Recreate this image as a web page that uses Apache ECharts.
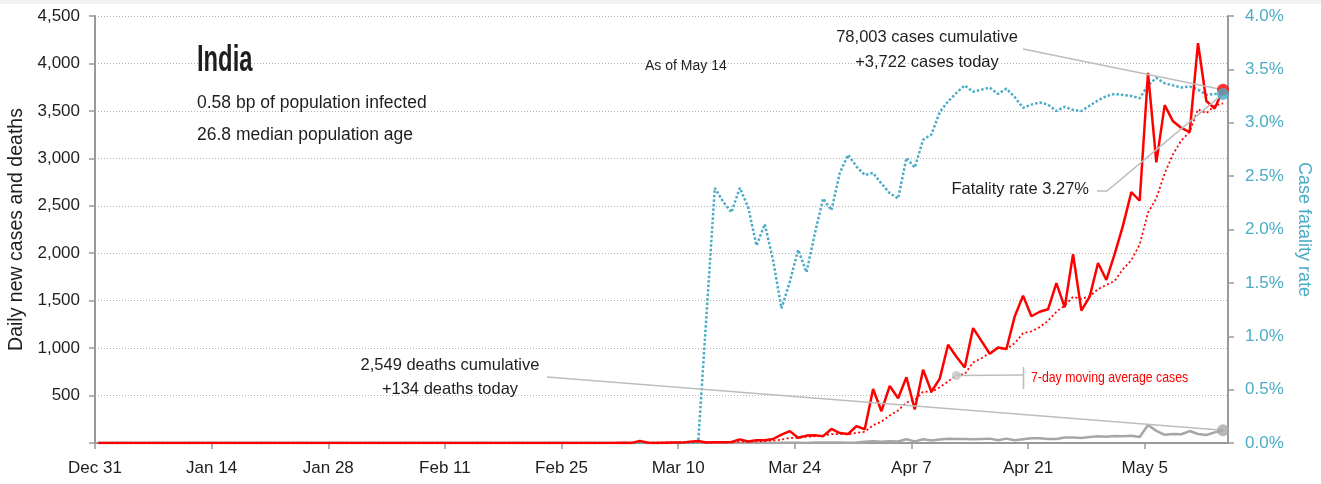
<!DOCTYPE html>
<html><head><meta charset="utf-8">
<script src="https://cdn.jsdelivr.net/npm/echarts@6/dist/echarts.min.js"></script>
<style>html,body{margin:0;padding:0;background:#fff}#c{width:1321px;height:484px}</style>
</head><body><div id="c"></div>
<script>
// ---- data (day 0 = Dec 31, day 135 = May 14) ----
const tickDays = [0, 14, 28, 42, 56, 70, 84, 98, 112, 126];
const tickLabels = ['Dec 31', 'Jan 14', 'Jan 28', 'Feb 11', 'Feb 25', 'Mar 10', 'Mar 24', 'Apr 7', 'Apr 21', 'May 5'];
const dayOffset = 0.4; // reports are plotted a little after midnight of each day

const cases = [
  0,0,0,0,0,0,0,0,0,0,
  0,0,0,0,0,0,0,0,0,0,
  0,0,0,0,0,0,0,0,0,0,
  1,0,0,1,1,0,0,0,0,0,
  0,0,0,0,0,0,0,0,0,0,
  0,0,0,0,0,0,0,0,0,0,
  0,0,0,2,1,22,2,1,3,5,
  4,13,20,6,9,7,10,38,15,30,
  30,42,88,125,56,78,82,72,148,105,
  95,178,145,569,335,601,472,693,354,773,
  540,678,1035,909,796,1211,1076,941,1007,991,
  1334,1553,1336,1383,1409,1684,1429,1990,1396,1543,
  1897,1718,1993,2293,2644,2553,3900,2958,3561,3390,
  3320,3277,4213,3604,3525,3722
];
const casesAvg7 = [
  0,0,0,0,0,0,0,0,0,0,
  0,0,0,0,0,0,0,0,0,0,
  0,0,0,0,0,0,0,0,0,0,
  0.14,0.14,0.14,0.29,0.43,0.43,0.43,0.29,0.29,0.29,
  0.14,0,0,0,0,0,0,0,0,0,
  0,0,0,0,0,0,0,0,0,0,
  0,0,0,0.29,0.43,3.57,3.86,4.0,4.43,5.14,
  5.43,7.14,6.86,7.43,8.57,9.14,9.86,14.7,15.0,16.4,
  19.9,24.6,36.1,52.6,55.1,64.1,71.6,77.6,92.7,95.1,
  90.9,108.3,117.9,187.4,225.0,289.7,342.1,427.6,452.7,542.4,
  538.3,587.3,649.3,711.7,726.4,848.9,892.1,949.4,996.4,990.1,
  1050.9,1159.0,1176.9,1220.7,1287.6,1384.3,1446.9,1540.6,1518.1,1547.7,
  1621.1,1665.3,1709.4,1832.9,1926.3,2091.6,2428.3,2579.9,2843.1,3042.7,
  3189.4,3279.9,3517.0,3474.7,3555.7,3578.7
];
const deaths = [
  0,0,0,0,0,0,0,0,0,0,
  0,0,0,0,0,0,0,0,0,0,
  0,0,0,0,0,0,0,0,0,0,
  0,0,0,0,0,0,0,0,0,0,
  0,0,0,0,0,0,0,0,0,0,
  0,0,0,0,0,0,0,0,0,0,
  0,0,0,0,0,0,0,0,0,0,
  0,0,1,1,0,0,1,0,1,1,
  1,0,2,3,3,1,6,4,4,6,
  2,5,12,18,14,18,16,40,17,40,
  26,37,46,43,43,40,43,46,30,46,
  30,40,50,50,43,43,57,57,53,63,
  70,66,73,70,77,64,190,128,86,95,
  92,126,95,85,112,134
];
const fatalityRate = [
  0,0,0,0,0,0,0,0,0,0,
  0,0,0,0,0,0,0,0,0,0,
  0,0,0,0,0,0,0,0,0,0,
  0,0,0,0,0,0,0,0,0,0,
  0,0,0,0,0,0,0,0,0,0,
  0,0,0,0,0,0,0,0,0,0,
  0,0,0,0,0,0,0,0,0,0,
  0,0,0,1.2,2.39,2.26,2.16,2.39,2.21,1.85,
  2.05,1.71,1.26,1.51,1.81,1.60,1.96,2.29,2.18,2.53,
  2.70,2.59,2.51,2.53,2.43,2.34,2.29,2.67,2.58,2.84,
  2.89,3.10,3.20,3.28,3.35,3.29,3.31,3.33,3.27,3.32,
  3.24,3.14,3.17,3.19,3.17,3.11,3.15,3.12,3.11,3.16,
  3.21,3.25,3.27,3.26,3.25,3.23,3.35,3.42,3.37,3.35,
  3.33,3.34,3.31,3.26,3.27,3.27
];
const avgLabelDay = 103; // where the moving-average callout touches the line

// ---- styling ----
const FONT = '"Liberation Sans", Arial, sans-serif';
const TXT = '#1e1e1e';
const RED = '#ff0000';
const TEAL = '#4bacc6';
const GREY = '#a6a6a6';
const AXIS = '#9a9a9a';
const LEAD = '#bdbdbd';

const pairs = arr => arr.map((v, i) => [i + dayOffset, v]);
const last = cases.length - 1;
const lastX = last + dayOffset;

const chart = echarts.init(document.getElementById('c'), null, {renderer: 'canvas'});
chart.setOption({
  animation: false,
  backgroundColor: '#ffffff',
  textStyle: {fontFamily: FONT},
  grid: {left: 95, right: 93, top: 16, bottom: 41, containLabel: false, outerBoundsMode: 'none'},
  xAxis: {
    type: 'value', min: 0, max: 136,
    axisLine: {show: true, onZero: false, lineStyle: {color: AXIS, width: 2}},
    axisTick: {show: true, length: 6, customValues: tickDays, lineStyle: {color: AXIS, width: 1.5}},
    axisLabel: {customValues: tickDays, formatter: v => tickLabels[tickDays.indexOf(v)] || '',
      color: TXT, fontSize: 17, fontFamily: FONT, margin: 17},
    splitLine: {show: false}
  },
  yAxis: [{
    type: 'value', min: 0, max: 4500, interval: 500, position: 'left',
    name: 'Daily new cases and deaths', nameLocation: 'middle', nameGap: 67,
    nameTextStyle: {color: TXT, fontSize: 19.5, fontFamily: FONT},
    axisLine: {show: true, lineStyle: {color: AXIS, width: 2}},
    axisTick: {show: true, length: 6, lineStyle: {color: AXIS, width: 1.5}},
    axisLabel: {formatter: v => v === 0 ? '' : v.toLocaleString('en-US'), color: TXT, fontSize: 17, fontFamily: FONT, margin: 15},
    splitLine: {show: true, lineStyle: {type: [1, 2], color: '#b3b3b3', width: 1}}
  }, {
    type: 'value', min: 0, max: 4, interval: 0.5, position: 'right',
    name: 'Case fatality rate', nameLocation: 'middle', nameGap: 60, nameRotate: -90,
    nameTextStyle: {color: TEAL, fontSize: 18, fontFamily: FONT},
    axisLine: {show: true, lineStyle: {color: AXIS, width: 2}},
    axisTick: {show: true, length: 6, lineStyle: {color: AXIS, width: 1.5}},
    axisLabel: {formatter: v => v.toFixed(1) + '%', color: TEAL, fontSize: 17, fontFamily: FONT, margin: 17},
    splitLine: {show: false}
  }],
  series: [
    {name: 'Deaths', type: 'line', data: pairs(deaths), showSymbol: false, z: 2,
      lineStyle: {color: GREY, width: 2.5}, itemStyle: {color: GREY}},
    {name: '7-day average', type: 'line', data: pairs(casesAvg7), showSymbol: false, z: 3,
      lineStyle: {color: RED, width: 1.8, type: [2, 2.5]}, itemStyle: {color: RED}},
    {name: 'Fatality rate', type: 'line', yAxisIndex: 1, data: pairs(fatalityRate), showSymbol: false, z: 3,
      lineStyle: {color: TEAL, width: 2.5, type: [2.5, 2]}, itemStyle: {color: TEAL}},
    {name: 'Cases', type: 'line', data: pairs(cases), showSymbol: false, z: 4,
      lineStyle: {color: RED, width: 2.5}, itemStyle: {color: RED}},
    {type: 'scatter', data: [[lastX, deaths[last]]], symbolSize: 12, itemStyle: {color: GREY}, z: 8, silent: true},
    {type: 'scatter', data: [[lastX, cases[last]]], symbolSize: 12, itemStyle: {color: RED}, z: 8, silent: true},
    {type: 'scatter', yAxisIndex: 1, data: [[lastX, fatalityRate[last]]], symbolSize: 12, itemStyle: {color: TEAL}, z: 9, silent: true},
    {type: 'scatter', data: [[avgLabelDay + dayOffset, casesAvg7[avgLabelDay]]], symbolSize: 9, itemStyle: {color: '#c4c4c4'}, z: 8, silent: true}
  ]
});

// ---- annotations anchored to data points ----
const pCase = chart.convertToPixel({seriesIndex: 3}, [lastX, cases[last]]);
const pDeath = chart.convertToPixel({seriesIndex: 0}, [lastX, deaths[last]]);
const pRate = chart.convertToPixel({seriesIndex: 2}, [lastX, fatalityRate[last]]);
const pAvg = chart.convertToPixel({seriesIndex: 1}, [avgLabelDay + dayOffset, casesAvg7[avgLabelDay]]);

const txt = (text, x, y, size, opts = {}) => ({
  type: 'text', x, y, z: 20, silent: true,
  scaleX: opts.scaleX || 1,
  style: {text, fill: opts.color || TXT, font: (opts.weight || 'normal') + ' ' + size + 'px ' + FONT,
    align: opts.align || 'left', verticalAlign: 'middle'}
});
const line = (x1, y1, x2, y2) => ({type: 'line', z: 6, silent: true,
  shape: {x1, y1, x2, y2}, style: {stroke: LEAD, lineWidth: 1.6}});

chart.setOption({
  graphic: [
    {type: 'rect', z: 0, silent: true, shape: {x: 0, y: 0, width: 1321, height: 4}, style: {fill: '#f1f1f1'}},
    txt('India', 197, 61, 36, {weight: 'bold', scaleX: 0.66}),
    txt('0.58 bp of population infected', 197, 103, 17.5),
    txt('26.8 median population age', 197, 135, 17.5),
    txt('As of May 14', 645, 66, 14),
    txt('78,003 cases cumulative', 927, 37, 16.5, {align: 'center'}),
    txt('+3,722 cases today', 927, 62, 16.5, {align: 'center'}),
    line(1023, 49, pCase[0], pCase[1]),
    txt('2,549 deaths cumulative', 450, 365, 16.5, {align: 'center'}),
    txt('+134 deaths today', 450, 389, 16.5, {align: 'center'}),
    line(547, 377, pDeath[0], pDeath[1]),
    txt('Fatality rate 3.27%', 1089, 189, 16.5, {align: 'right'}),
    {type: 'polyline', z: 6, silent: true, shape: {points: [[1097, 191], [1107, 191], pRate]},
      style: {stroke: LEAD, lineWidth: 1.6, fill: null}},
    line(pAvg[0], pAvg[1], 1023, 375),
    line(1023.5, 367, 1023.5, 389),
    txt('7-day moving average cases', 1031, 378, 15, {color: RED, scaleX: 0.82})
  ]
});
</script></body></html>
